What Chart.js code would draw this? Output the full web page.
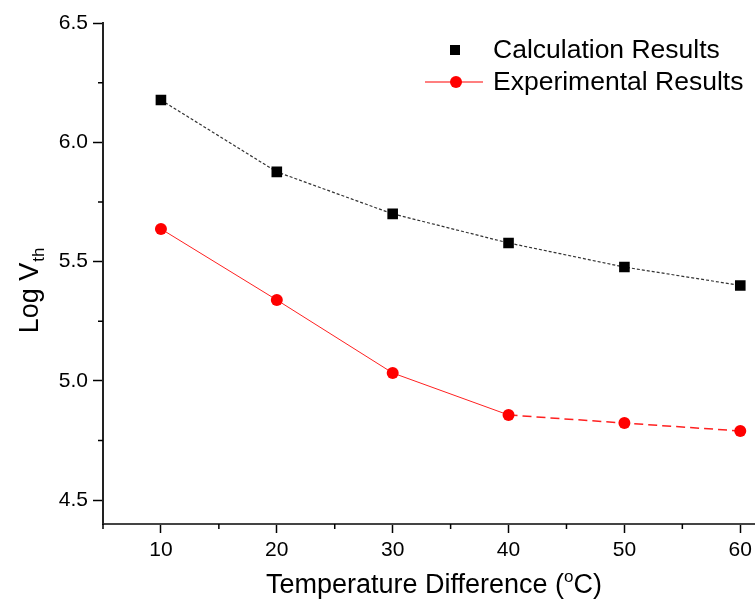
<!DOCTYPE html>
<html>
<head>
<meta charset="utf-8">
<script src="https://cdn.jsdelivr.net/npm/chart.js@4"></script>
<style>
  html, body { margin: 0; padding: 0; background: #fff; overflow: hidden; }
  #wrap { width: 764px; height: 610px; }
</style>
</head>
<body>
<div id="wrap"><canvas id="chart"></canvas></div>
<script>
// temperature difference (°C) and log of threshold voltage
const temps = [10, 20, 30, 40, 50, 60];
const calcResults = [6.177, 5.876, 5.70, 5.578, 5.477, 5.40];
const expResults = [5.637, 5.339, 5.033, 4.857, 4.823, 4.790];

const xTicks = [10, 20, 30, 40, 50, 60];
const xMinorTicks = [5, 15, 25, 35, 45, 55];
const yTicks = [4.5, 5.0, 5.5, 6.0, 6.5];
const yMinorTicks = [4.75, 5.25, 5.75, 6.25];

const FONT = "'Liberation Sans', Arial, sans-serif";

// short minor ticks on both axes
const minorTicks = {
  id: 'minorTicks',
  afterDraw(chart) {
    const ctx = chart.ctx, xs = chart.scales.x, ys = chart.scales.y;
    ctx.save();
    ctx.strokeStyle = '#000';
    ctx.lineWidth = 1.5;
    ctx.beginPath();
    xMinorTicks.forEach(v => {
      const px = xs.getPixelForValue(v);
      ctx.moveTo(px, ys.bottom);
      ctx.lineTo(px, ys.bottom + 5);
    });
    yMinorTicks.forEach(v => {
      const py = ys.getPixelForValue(v);
      ctx.moveTo(xs.left, py);
      ctx.lineTo(xs.left - 5, py);
    });
    ctx.stroke();
    ctx.restore();
  }
};

// axis titles with sub/superscripts
const axisTitles = {
  id: 'axisTitles',
  afterDraw(chart) {
    const ctx = chart.ctx;
    ctx.save();
    ctx.fillStyle = '#000';
    ctx.textBaseline = 'alphabetic';

    // x title: Temperature Difference (°C)
    const big = '27px ' + FONT, small = '17px ' + FONT;
    ctx.font = big;
    const a = 'Temperature Difference (', b = 'C)';
    const wa = ctx.measureText(a).width, wb = ctx.measureText(b).width;
    ctx.font = small;
    const wo = ctx.measureText('o').width;
    let x = 434 - (wa + wo + wb) / 2;
    const base = 593;
    ctx.font = big;
    ctx.fillText(a, x, base);
    x += wa;
    ctx.font = small;
    ctx.fillText('o', x, base - 11);
    x += wo;
    ctx.font = big;
    ctx.fillText(b, x, base);

    // y title: Log V_th, rotated
    ctx.translate(38, 291);
    ctx.rotate(-Math.PI / 2);
    ctx.font = big;
    const t = 'Log V';
    const wt = ctx.measureText(t).width;
    ctx.font = small;
    const ws = ctx.measureText('th').width;
    const y0 = -(wt + ws) / 2;
    ctx.font = big;
    ctx.fillText(t, y0, 0);
    ctx.font = small;
    ctx.fillText('th', y0 + wt + 1, 6);
    ctx.restore();
  }
};

// legend box in the top right
const legendBox = {
  id: 'legendBox',
  afterDraw(chart) {
    const ctx = chart.ctx;
    ctx.save();
    ctx.font = '26.5px ' + FONT;
    ctx.fillStyle = '#000';
    ctx.textBaseline = 'middle';
    // calculation: marker only
    ctx.fillRect(450, 45, 10, 10);
    ctx.fillText('Calculation Results', 493, 51);
    // experimental: line and circle
    ctx.strokeStyle = '#ff0000';
    ctx.lineWidth = 1.2;
    ctx.beginPath();
    ctx.moveTo(425, 82);
    ctx.lineTo(483, 82);
    ctx.stroke();
    ctx.fillStyle = '#ff0000';
    ctx.beginPath();
    ctx.arc(456, 82, 6, 0, Math.PI * 2);
    ctx.fill();
    ctx.fillStyle = '#000';
    ctx.fillText('Experimental Results', 493, 83);
    ctx.restore();
  }
};

new Chart(document.getElementById('chart'), {
  type: 'line',
  data: {
    datasets: [
      {
        label: 'Calculation Results',
        data: temps.map((t, i) => ({ x: t, y: calcResults[i] })),
        borderColor: '#333',
        borderWidth: 1.2,
        borderDash: [3, 2],
        pointStyle: 'rect',
        pointRadius: 7.5,
        pointBackgroundColor: '#000',
        pointBorderColor: '#000',
        pointBorderWidth: 0
      },
      {
        label: 'Experimental Results',
        data: temps.map((t, i) => ({ x: t, y: expResults[i] })),
        borderColor: '#ff2020',
        borderWidth: 1,
        segment: {
          borderDash: c => c.p0DataIndex >= 3 ? [9, 5] : [],
          borderWidth: c => c.p0DataIndex >= 3 ? 1.5 : 1
        },
        pointStyle: 'circle',
        pointRadius: 6,
        pointBackgroundColor: '#ff0000',
        pointBorderColor: '#ff0000',
        pointBorderWidth: 0
      }
    ]
  },
  options: {
    responsive: true,
    maintainAspectRatio: false,
    animation: false,
    layout: { padding: { top: 23, right: 0, left: 0, bottom: 0 } },
    plugins: { legend: { display: false }, tooltip: { enabled: false } },
    scales: {
      x: {
        type: 'linear',
        min: 5,
        max: 61.4,
        afterBuildTicks: s => { s.ticks = xTicks.map(v => ({ value: v })); },
        afterFit: s => { s.height = 86; },
        grid: { drawOnChartArea: false, drawTicks: true, tickLength: 9, tickWidth: 1.5, tickColor: '#000' },
        border: { color: '#444', width: 2 },
        ticks: { color: '#000', font: { family: FONT, size: 21 }, padding: 5, maxRotation: 0 }
      },
      y: {
        min: 4.4,
        max: 6.5,
        afterBuildTicks: s => { s.ticks = yTicks.map(v => ({ value: v })); },
        afterFit: s => { s.width = 103; },
        grid: { drawOnChartArea: false, drawTicks: true, tickLength: 10, tickWidth: 1.5, tickColor: '#000' },
        border: { color: '#222', width: 2 },
        ticks: { color: '#000', font: { family: FONT, size: 21 }, padding: 5, callback: v => v.toFixed(1) }
      }
    }
  },
  plugins: [minorTicks, axisTitles, legendBox]
});
</script>
</body>
</html>
